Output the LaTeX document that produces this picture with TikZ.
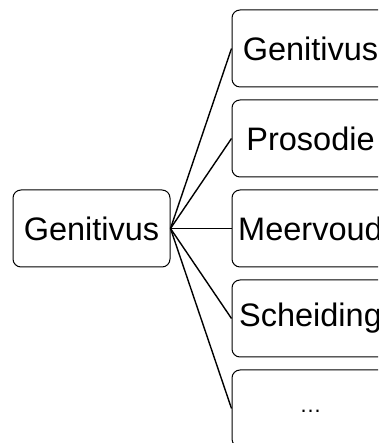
\documentclass[tikz,border=0pt]{standalone}
\usepackage{fontspec}
\setmainfont{Liberation Sans}
\begin{document}
\begin{tikzpicture}[x=1pt,y=1pt,
  term/.style={draw,rounded corners=8pt,line width=1pt,inner sep=0pt,
    minimum width=157pt,minimum height=77pt,font=\fontsize{32.5}{32.5}\selectfont},
  link/.style={line width=1.4pt}]
  \clip (0,0) rectangle (378,443);
  \node[term] (root) at (91.5,214.5) {Genitivus};
  \foreach \name/\txt [count=\i] in {gen/Genitivus,pros/Prosodie,meer/Meervoud,sch/Scheiding,
    rest/{\fontsize{22}{22}\selectfont\raisebox{-9pt}{\dots}}}
  {
    \node[term] (\name) at (310.5,484.5-90*\i) {\txt};
    \draw[link] (root.east) -- (\name.west);
  }
\end{tikzpicture}
\end{document}
